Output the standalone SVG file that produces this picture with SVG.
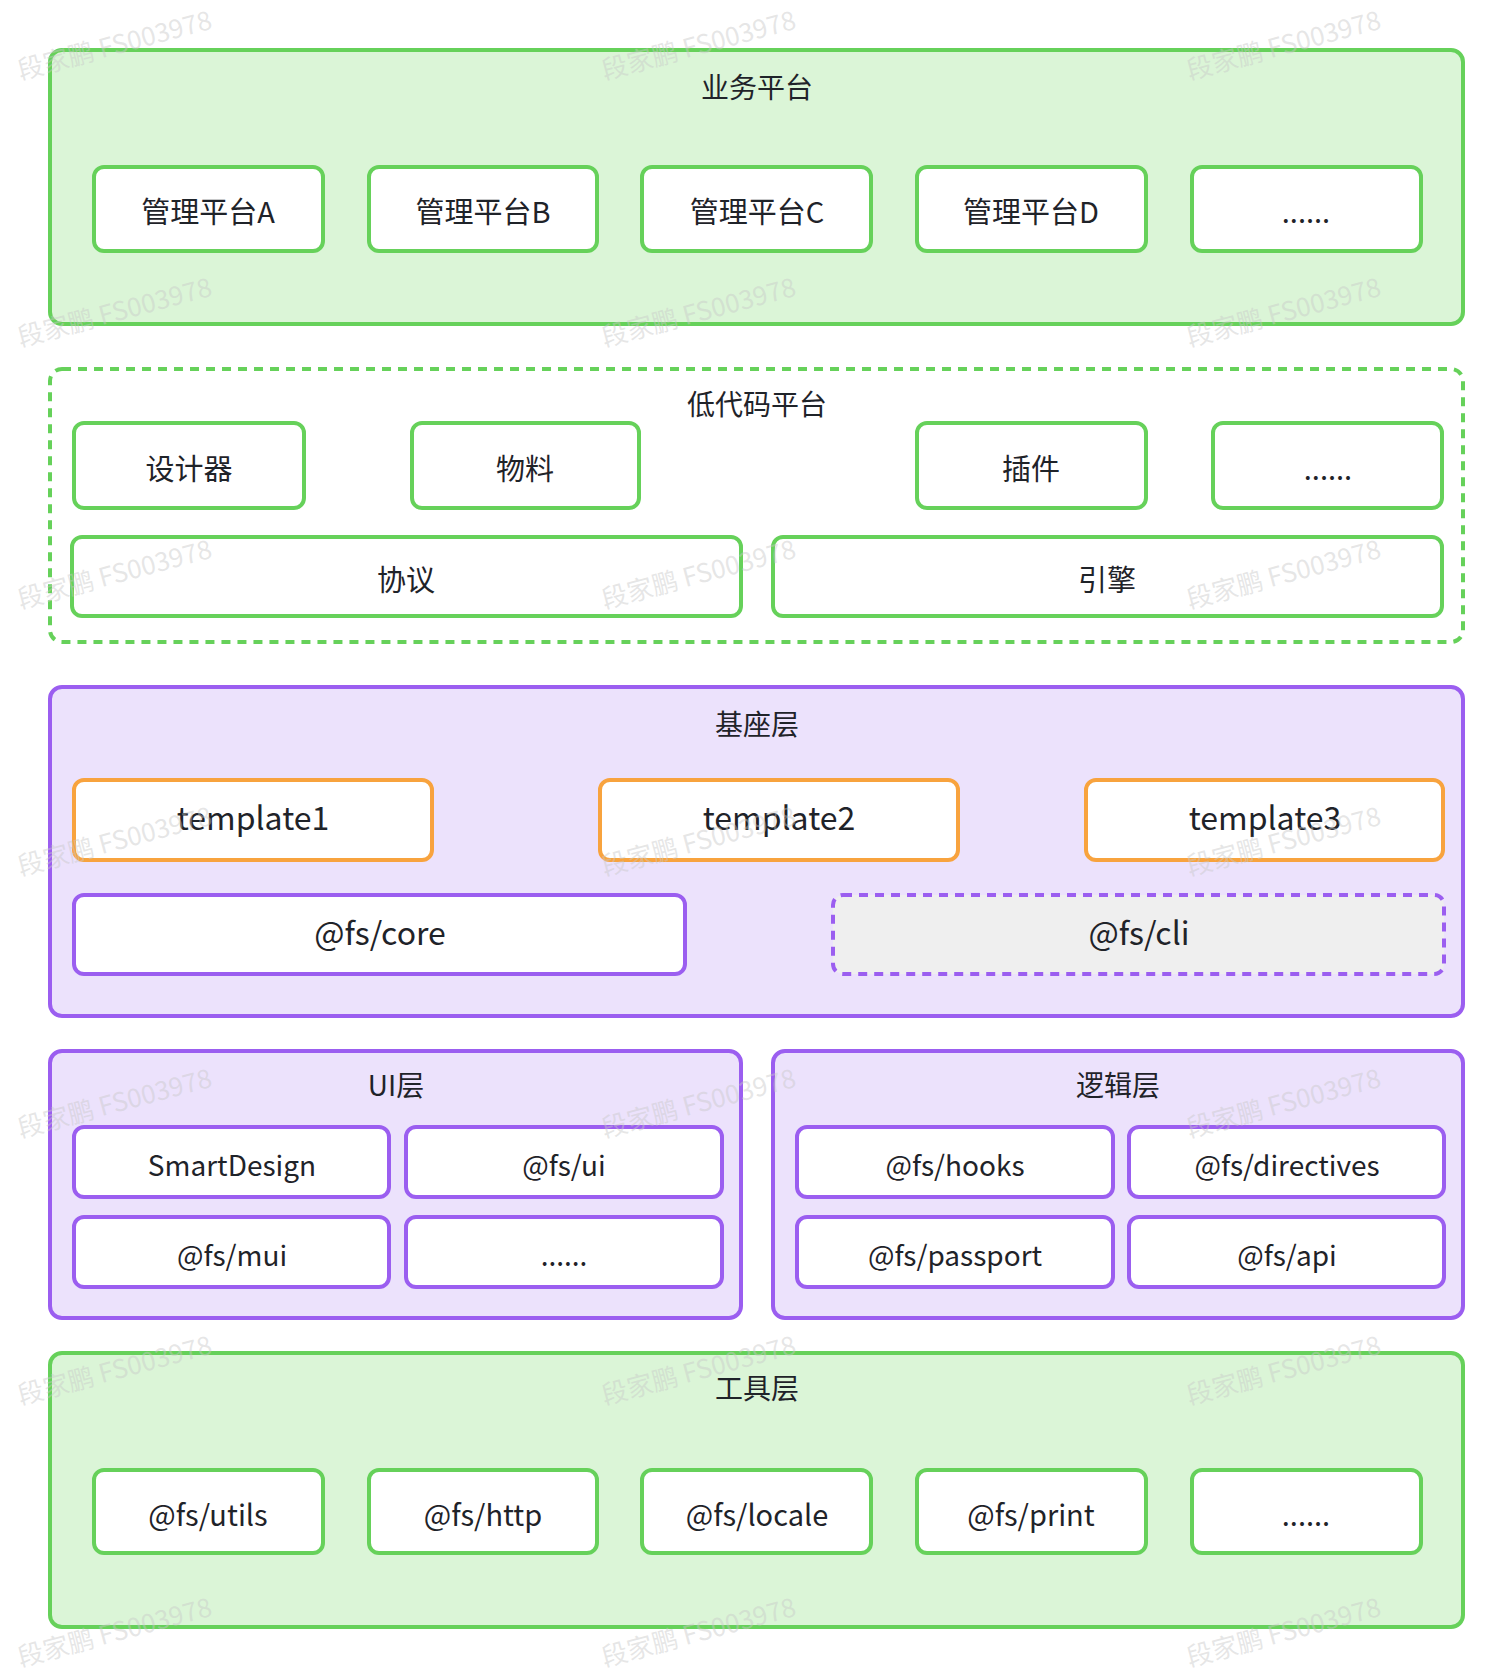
<svg xmlns="http://www.w3.org/2000/svg" width="1512" height="1676" viewBox="0 0 1512 1676">
<style>
text{font-family:"Source Han Sans SC","Noto Sans CJK SC","Noto Sans",sans-serif;fill:#1f2329;text-anchor:middle;dominant-baseline:central}
.g{fill:#dbf5d7;stroke:#66d15a;stroke-width:4}
.gd{fill:#fff;stroke:#66d15a;stroke-width:4;stroke-dasharray:9 7}
.gb{fill:#fff;stroke:#66d15a;stroke-width:4}
.p{fill:#ece2fc;stroke:#9b5ef0;stroke-width:4}
.pb{fill:#fff;stroke:#9b5ef0;stroke-width:4}
.pd{fill:#efefef;stroke:#9b5ef0;stroke-width:4;stroke-dasharray:9 7}
.o{fill:#fff;stroke:#f8a33e;stroke-width:4}
.t{font-size:28px}
.s{font-size:29px}
.l{font-size:32px}
.w{font-size:26px;fill:#c8c8c8;fill-opacity:0.45}
</style>
<rect width="1512" height="1676" fill="#fff"/>
<g id="biz"><rect class="g" x="50" y="50" width="1413" height="274" rx="12"/><text class="t" x="757" y="86">业务平台</text></g>
<g id="bizA"><rect class="gb" x="94" y="167" width="229" height="84" rx="10"/><text class="s" x="208" y="210">管理平台A</text></g>
<g id="bizB"><rect class="gb" x="369" y="167" width="228" height="84" rx="10"/><text class="s" x="483" y="210">管理平台B</text></g>
<g id="bizC"><rect class="gb" x="642" y="167" width="229" height="84" rx="10"/><text class="s" x="757" y="210">管理平台C</text></g>
<g id="bizD"><rect class="gb" x="917" y="167" width="229" height="84" rx="10"/><text class="s" x="1031" y="210">管理平台D</text></g>
<g id="bizE"><rect class="gb" x="1192" y="167" width="229" height="84" rx="10"/><text class="s" x="1306" y="210">......</text></g>

<g id="lowcode"><rect class="gd" x="50" y="369" width="1413" height="273" rx="12"/><text class="t" x="757" y="403">低代码平台</text></g>
<g id="designer"><rect class="gb" x="74" y="423" width="230" height="85" rx="10"/><text class="s" x="189" y="467">设计器</text></g>
<g id="material"><rect class="gb" x="412" y="423" width="227" height="85" rx="10"/><text class="s" x="525" y="467">物料</text></g>
<g id="plugin"><rect class="gb" x="917" y="423" width="229" height="85" rx="10"/><text class="s" x="1031" y="467">插件</text></g>
<g id="lcmore"><rect class="gb" x="1213" y="423" width="229" height="85" rx="10"/><text class="s" x="1328" y="467">......</text></g>
<g id="protocol"><rect class="gb" x="72" y="537" width="669" height="79" rx="10"/><text class="s" x="406" y="578">协议</text></g>
<g id="engine"><rect class="gb" x="773" y="537" width="669" height="79" rx="10"/><text class="s" x="1107" y="578">引擎</text></g>

<g id="base"><rect class="p" x="50" y="687" width="1413" height="329" rx="12"/><text class="t" x="757" y="723">基座层</text></g>
<g id="t1"><rect class="o" x="74" y="780" width="358" height="80" rx="10"/><text class="l" x="253" y="816">template1</text></g>
<g id="t2"><rect class="o" x="600" y="780" width="358" height="80" rx="10"/><text class="l" x="779" y="816">template2</text></g>
<g id="t3"><rect class="o" x="1086" y="780" width="357" height="80" rx="10"/><text class="l" x="1265" y="816">template3</text></g>
<g id="core"><rect class="pb" x="74" y="895" width="611" height="79" rx="10"/><text class="l" x="380" y="931">@fs/core</text></g>
<g id="cli"><rect class="pd" x="833" y="895" width="611" height="79" rx="10"/><text class="l" x="1139" y="931">@fs/cli</text></g>

<g id="ui"><rect class="p" x="50" y="1051" width="691" height="267" rx="12"/><text class="t" x="396" y="1084">UI层</text></g>
<g id="sd"><rect class="pb" x="74" y="1127" width="315" height="70" rx="10"/><text class="t" x="232" y="1164">SmartDesign</text></g>
<g id="fsui"><rect class="pb" x="406" y="1127" width="316" height="70" rx="10"/><text class="t" x="564" y="1164">@fs/ui</text></g>
<g id="mui"><rect class="pb" x="74" y="1217" width="315" height="70" rx="10"/><text class="t" x="232" y="1254">@fs/mui</text></g>
<g id="uimore"><rect class="pb" x="406" y="1217" width="316" height="70" rx="10"/><text class="t" x="564" y="1254">......</text></g>

<g id="logic"><rect class="p" x="773" y="1051" width="690" height="267" rx="12"/><text class="t" x="1118" y="1084">逻辑层</text></g>
<g id="hooks"><rect class="pb" x="797" y="1127" width="316" height="70" rx="10"/><text class="t" x="955" y="1164">@fs/hooks</text></g>
<g id="dir"><rect class="pb" x="1129" y="1127" width="315" height="70" rx="10"/><text class="t" x="1287" y="1164">@fs/directives</text></g>
<g id="pass"><rect class="pb" x="797" y="1217" width="316" height="70" rx="10"/><text class="t" x="955" y="1254">@fs/passport</text></g>
<g id="api"><rect class="pb" x="1129" y="1217" width="315" height="70" rx="10"/><text class="t" x="1287" y="1254">@fs/api</text></g>

<g id="tool"><rect class="g" x="50" y="1353" width="1413" height="274" rx="12"/><text class="t" x="757" y="1387">工具层</text></g>
<g id="utils"><rect class="gb" x="94" y="1470" width="229" height="83" rx="10"/><text class="s" x="208" y="1513">@fs/utils</text></g>
<g id="http"><rect class="gb" x="369" y="1470" width="228" height="83" rx="10"/><text class="s" x="483" y="1513">@fs/http</text></g>
<g id="locale"><rect class="gb" x="642" y="1470" width="229" height="83" rx="10"/><text class="s" x="757" y="1513">@fs/locale</text></g>
<g id="print"><rect class="gb" x="917" y="1470" width="229" height="83" rx="10"/><text class="s" x="1031" y="1513">@fs/print</text></g>
<g id="toolmore"><rect class="gb" x="1192" y="1470" width="229" height="83" rx="10"/><text class="s" x="1306" y="1513">......</text></g>

<g id="connectors"/>

<g id="watermark">
<text class="w" transform="translate(114,43) rotate(-15)">段家鹏 FS003978</text>
<text class="w" transform="translate(698,43) rotate(-15)">段家鹏 FS003978</text>
<text class="w" transform="translate(1283,43) rotate(-15)">段家鹏 FS003978</text>
<text class="w" transform="translate(114,310) rotate(-15)">段家鹏 FS003978</text>
<text class="w" transform="translate(698,310) rotate(-15)">段家鹏 FS003978</text>
<text class="w" transform="translate(1283,310) rotate(-15)">段家鹏 FS003978</text>
<text class="w" transform="translate(114,572) rotate(-15)">段家鹏 FS003978</text>
<text class="w" transform="translate(698,572) rotate(-15)">段家鹏 FS003978</text>
<text class="w" transform="translate(1283,572) rotate(-15)">段家鹏 FS003978</text>
<text class="w" transform="translate(114,839) rotate(-15)">段家鹏 FS003978</text>
<text class="w" transform="translate(698,839) rotate(-15)">段家鹏 FS003978</text>
<text class="w" transform="translate(1283,839) rotate(-15)">段家鹏 FS003978</text>
<text class="w" transform="translate(114,1101) rotate(-15)">段家鹏 FS003978</text>
<text class="w" transform="translate(698,1101) rotate(-15)">段家鹏 FS003978</text>
<text class="w" transform="translate(1283,1101) rotate(-15)">段家鹏 FS003978</text>
<text class="w" transform="translate(114,1368) rotate(-15)">段家鹏 FS003978</text>
<text class="w" transform="translate(698,1368) rotate(-15)">段家鹏 FS003978</text>
<text class="w" transform="translate(1283,1368) rotate(-15)">段家鹏 FS003978</text>
<text class="w" transform="translate(114,1630) rotate(-15)">段家鹏 FS003978</text>
<text class="w" transform="translate(698,1630) rotate(-15)">段家鹏 FS003978</text>
<text class="w" transform="translate(1283,1630) rotate(-15)">段家鹏 FS003978</text>
</g>
</svg>
